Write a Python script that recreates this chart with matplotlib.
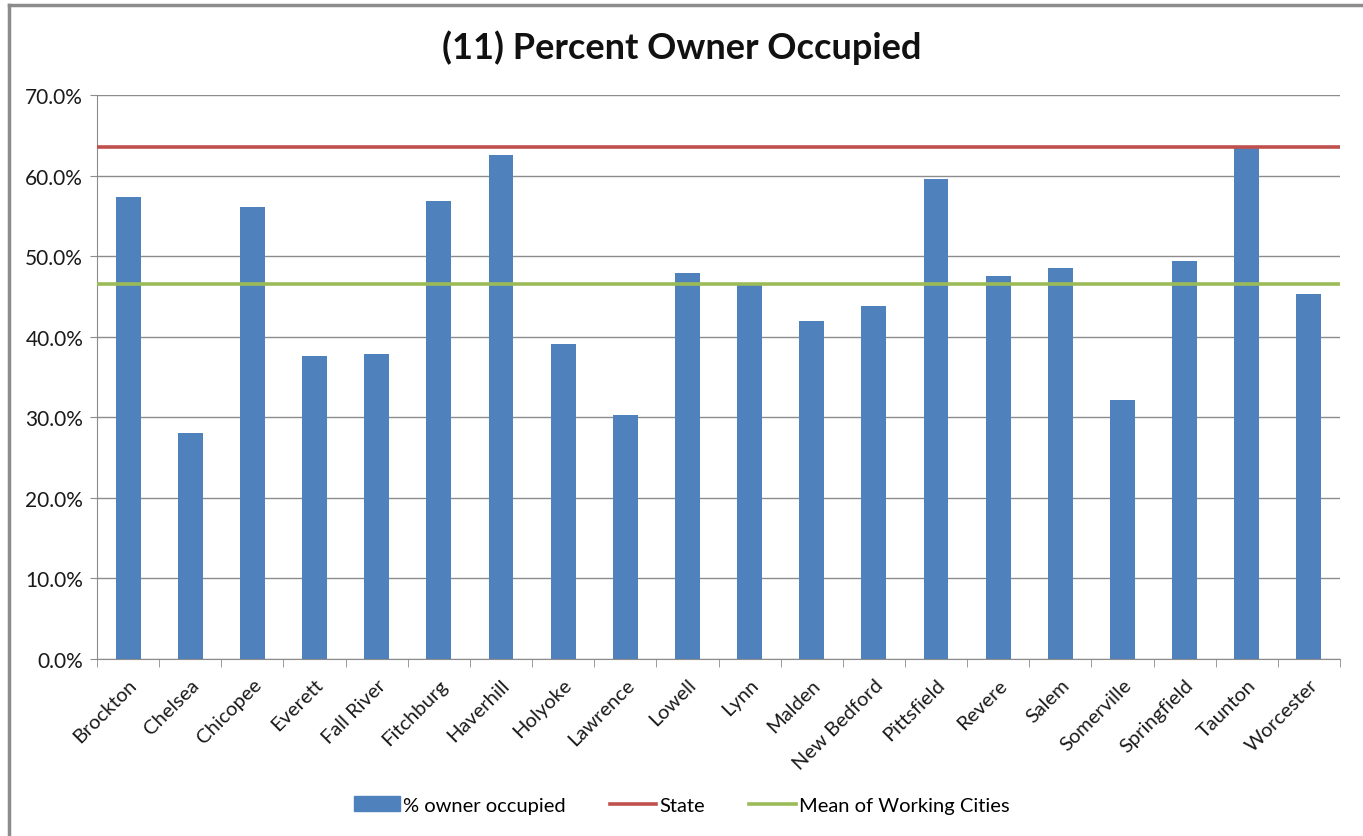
import numpy as np
import matplotlib.pyplot as plt
from matplotlib.lines import Line2D
from matplotlib.patches import Patch

# === DADOS ===
cidades = ['Brockton', 'Chelsea', 'Chicopee', 'Everett', 'Fall River', 'Fitchburg',
           'Haverhill', 'Holyoke', 'Lawrence', 'Lowell', 'Lynn', 'Malden',
           'New Bedford', 'Pittsfield', 'Revere', 'Salem', 'Somerville',
           'Springfield', 'Taunton', 'Worcester']
pct_owner = [57.3, 28.0, 56.1, 37.6, 37.9, 56.8, 62.6, 39.1, 30.3, 47.9,
             46.5, 42.0, 43.8, 59.6, 47.5, 48.5, 32.1, 49.4, 63.5, 45.3]
state = 63.5
mean_cities = 46.5
yticks = [0, 10, 20, 30, 40, 50, 60, 70]

plt.rcParams['font.family'] = ['Lato', 'DejaVu Sans']

fig = plt.figure(figsize=(13.63, 8.37), dpi=100)
ax = fig.add_axes([0.0712, 0.2115, 0.9119, 0.6738])

x = np.arange(len(cidades))
ax.bar(x, pct_owner, width=0.4, color='#4F81BD', zorder=2)
ax.axhline(state, color='#C0504D', lw=2.6, zorder=3)
ax.axhline(mean_cities, color='#9BBB59', lw=2.6, zorder=3)

ax.set_xlim(-0.5, len(cidades) - 0.5)
ax.set_ylim(0, 70)
ax.set_yticks(yticks)
ax.set_yticklabels([f'{v:.1f}%' for v in yticks], fontsize=15, color='#1a1a1a')
ax.yaxis.grid(True, color='#8C8C8C', lw=1, zorder=0)

ax.set_xticks(x)
ax.set_xticklabels(cidades, rotation=45, ha='right', rotation_mode='anchor', fontsize=14.5, color='#1a1a1a')
ax.tick_params(axis='x', length=0, pad=12)
ax.set_xticks(np.arange(-0.5, len(cidades)), minor=True)
ax.tick_params(axis='x', which='minor', length=6, color='#8C8C8C')
ax.tick_params(axis='y', length=5, color='#8C8C8C', pad=5)

for s in ['top', 'right']:
    ax.spines[s].set_visible(False)
for s in ['left', 'bottom']:
    ax.spines[s].set_color('#8C8C8C')

fig.text(0.5, 0.943, '(11) Percent Owner Occupied', ha='center', va='center',
         fontsize=26, fontweight='bold', color='#111111')

handles = [Patch(color='#4F81BD'),
           Line2D([], [], color='#C0504D', lw=2.6),
           Line2D([], [], color='#9BBB59', lw=2.6)]
fig.legend(handles, ['% owner occupied', 'State', 'Mean of Working Cities'],
           loc='center', bbox_to_anchor=(0.5, 0.037), ncol=3, frameon=False,
           fontsize=14.5, handlelength=2.3, handletextpad=0.15, columnspacing=2.2)

# moldura do gráfico (topo e esquerda)
fig.add_artist(Line2D([9 / 1363, 9 / 1363], [0, 1 - 6 / 837], color='#8C8C8C', lw=2.5, transform=fig.transFigure))
fig.add_artist(Line2D([9 / 1363, 1], [1 - 6 / 837, 1 - 6 / 837], color='#8C8C8C', lw=2.5, transform=fig.transFigure))

fig.savefig('out.png', dpi=100)
